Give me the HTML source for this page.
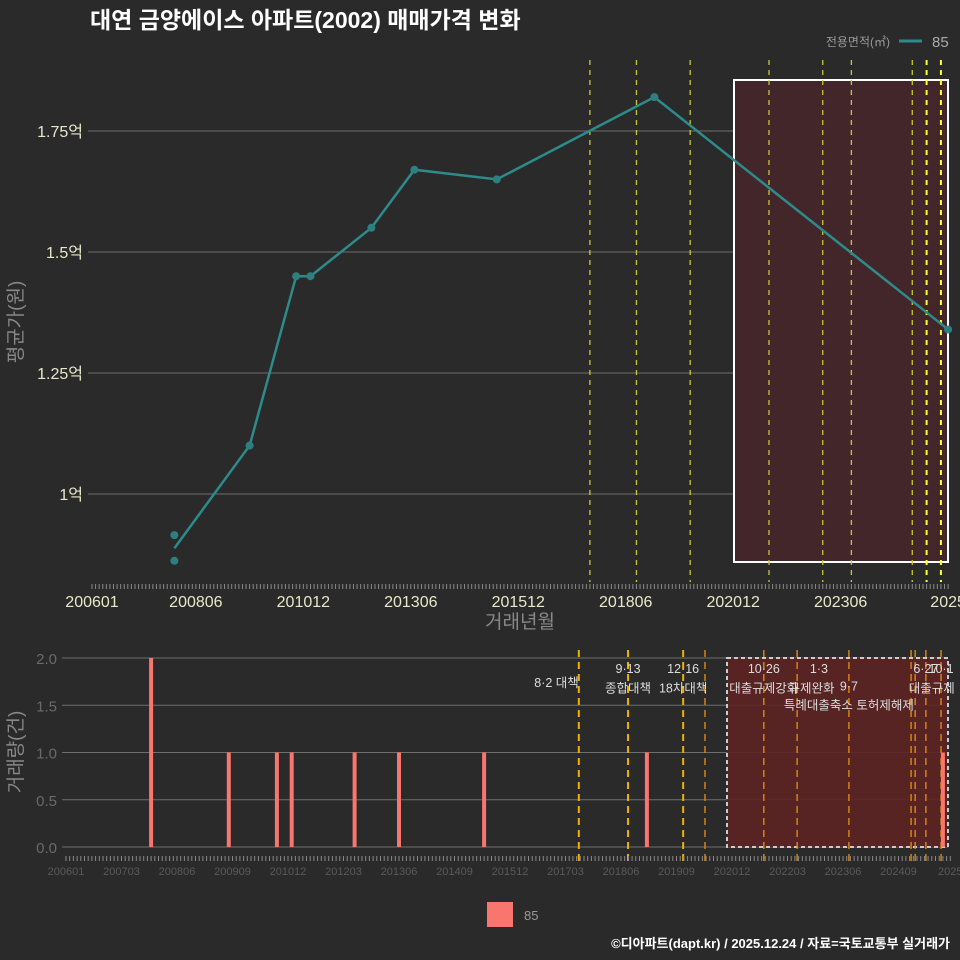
<!DOCTYPE html>
<html><head><meta charset="utf-8">
<style>
html,body{margin:0;padding:0;background:#2a2a2b;}
svg{display:block;font-family:"Liberation Sans","Noto Sans CJK KR",sans-serif;}
</style></head>
<body>
<svg id="c" width="960" height="960" viewBox="0 0 960 960" xmlns="http://www.w3.org/2000/svg">
<rect x="0" y="0" width="960" height="960" fill="#2a2a2b"/>
<text x="90" y="28" fill="#ffffff" font-size="23" font-weight="bold">대연 금양에이스 아파트(2002) 매매가격 변화</text>
<text x="890" y="46" fill="#9a9a9a" font-size="12" text-anchor="end">전용면적(㎡)</text>
<line x1="899" y1="41" x2="922" y2="41" stroke="#2e8b8b" stroke-width="3"/>
<text x="932" y="47" fill="#aaaaaa" font-size="15">85</text>
<g id="topg"></g>
<g id="botg"></g>
<rect x="487" y="902" width="26" height="25" fill="#f8766d"/>
<text x="524" y="920" fill="#999999" font-size="13">85</text>
<text x="950" y="948" fill="#ffffff" font-size="13" font-weight="bold" text-anchor="end">©디아파트(dapt.kr) / 2025.12.24 / 자료=국토교통부 실거래가</text>
</svg>
<script>
// ---- data ----
const priceMonths = [23, 23, 44, 57, 61, 78, 90, 113, 157, 239]; // months since 2006-01
const priceValues = [0.915, 0.862, 1.10, 1.45, 1.45, 1.55, 1.67, 1.65, 1.82, 1.34]; // 억
const lineMonths = [23, 44, 57, 61, 78, 90, 113, 157, 239];
const lineValues = [0.888, 1.10, 1.45, 1.45, 1.55, 1.67, 1.65, 1.82, 1.34];
const volMonths = [23, 44, 57, 61, 78, 90, 113, 157, 237];
const volValues = [2, 1, 1, 1, 1, 1, 1, 1, 1];
const topPolicyMonths = [139, 152, 167, 189, 204, 212, 229, 233, 237];
const botPolicyMonths = [138.6, 151.9, 166.8, 172.7, 188.6, 197.6, 211.6, 228.4, 229.5, 232.4, 236.5];
const topYTicks = [1, 1.25, 1.5, 1.75];
const topYLabels = ["1억", "1.25억", "1.5억", "1.75억"];
const topXTickMonths = [0, 29, 59, 89, 119, 149, 179, 209, 239];
const topXLabels = ["200601","200806","201012","201306","201512","201806","202012","202306","2025"];
const botYTicks = [0, 0.5, 1, 1.5, 2];
const botYLabels = ["0.0","0.5","1.0","1.5","2.0"];
const botXTickMonths = [0,15,30,45,60,75,90,105,120,135,150,165,180,195,210,225,239];
const botXLabels = ["200601","200703","200806","200909","201012","201203","201306","201409","201512","201703","201806","201909","202012","202203","202306","202409","2025"];
const policyLabels = [
 {m:138.6, row:1, t:"8·2 대책", anchor:"end"},
 {m:151.9, row:0, t:"9·13"}, {m:151.9, row:1.4, t:"종합대책"},
 {m:166.8, row:0, t:"12·16"}, {m:166.8, row:1.4, t:"18차대책"},
 {m:188.6, row:0, t:"10·26"}, {m:188.6, row:1.4, t:"대출규제강화"},
 {m:203.5, row:0, t:"1·3"}, {m:201.5, row:1.4, t:"규제완화"},
 {m:211.6, row:1.25, t:"9·7"}, {m:211.6, row:2.6, t:"특례대출축소 토허제해제"},
 {m:232.4, row:0, t:"6·27"}, {m:236.5, row:0, t:"10·1"}, {m:234, row:1.4, t:"대출규제"}
];
// ---- axes ----
const NS = "http://www.w3.org/2000/svg";
const tx = m => 92 + m * 3.582;
const ty = v => 494 - (v - 1) * 484;
const bx = m => 66 + m * 3.7;
const by = v => 847 - v * 94.5;
function mk(parent, tag, attrs, text){
  const e = document.createElementNS(NS, tag);
  for (const k in attrs) e.setAttribute(k, attrs[k]);
  if (text !== undefined) e.textContent = text;
  parent.appendChild(e); return e;
}
const topG = document.getElementById('topg');
const botG = document.getElementById('botg');
topYTicks.forEach((v,i)=>{
  const g = mk(topG,'line',{x1:88,x2:948,y1:ty(v),y2:ty(v),stroke:'#6e6e6e','stroke-width':1});
  
  
  const t = mk(topG,'text',{x:83,y:ty(v)+6,fill:'#e8e8c8','font-size':16,'text-anchor':'end'},topYLabels[i]);
  
  
});
const r1 = mk(topG,'rect',{x:734,y:80,width:214,height:482,fill:'#43262a',stroke:'#ffffff','stroke-width':2});


topPolicyMonths.forEach((m,i)=>{
  const bright = i>=7;
  const l = mk(topG,'line',{x1:tx(m),x2:tx(m),y1:60,y2:582,stroke:bright?'#ffff33':'#c8c832','stroke-width':bright?2:1.3,'stroke-dasharray':'5 5'});
  
  
});
for(let m=0;m<=239;m++){
  const l = mk(topG,'line',{x1:tx(m),x2:tx(m),y1:584,y2:589,stroke:'#8a8a8a','stroke-width':1});
  
  
}
topXTickMonths.forEach((m,i)=>{
  const t = mk(topG,'text',{x:tx(m),y:607,fill:'#e8e8c8','font-size':16,'text-anchor':'middle'},topXLabels[i]);
  
  
});
const xt = mk(topG,'text',{x:520,y:628,fill:'#888888','font-size':19,'text-anchor':'middle'},'거래년월');


const yt = mk(topG,'text',{x:0,y:0,fill:'#888888','font-size':19,'text-anchor':'middle',transform:'translate(22,322) rotate(-90)'},'평균가(원)');


const pl = mk(topG,'polyline',{points:lineMonths.map((m,i)=>tx(m)+','+ty(lineValues[i])).join(' '),fill:'none',stroke:'#2e8b8b','stroke-width':2.5});


priceMonths.forEach((m,i)=>{
  const c = mk(topG,'circle',{cx:tx(m),cy:ty(priceValues[i]),r:4,fill:'#2e8080'});
  
  
});
// bottom
botYTicks.forEach((v,i)=>{
  const g = mk(botG,'line',{x1:62,x2:948,y1:by(v),y2:by(v),stroke:'#6e6e6e','stroke-width':1});
  
  
  const t = mk(botG,'text',{x:57,y:by(v)+6,fill:'#6a6a6a','font-size':15,'text-anchor':'end'},botYLabels[i]);
  
  
});
const r2 = mk(botG,'rect',{x:727,y:658,width:221,height:189,fill:'#5c2222','fill-opacity':0.9,stroke:'#cccccc','stroke-width':2,'stroke-dasharray':'4 3'});


botPolicyMonths.forEach((m,i)=>{
  const l = mk(botG,'line',{x1:bx(m),x2:bx(m),y1:650,y2:862,stroke:i<3?'#f0b000':'#e08a10','stroke-width':i<3?2:1.4,'stroke-dasharray':'7 5'});
  
  
});
volMonths.forEach((m,i)=>{
  const b = mk(botG,'rect',{x:bx(m)-2,y:by(volValues[i]),width:4,height:by(0)-by(volValues[i]),fill:'#f8766d'});
  
  
});
policyLabels.forEach(p=>{
  const t = mk(botG,'text',{x:bx(p.m),y:673+p.row*14,fill:'#dddddd','font-size':12.5,'text-anchor':p.anchor||'middle'},p.t);
  
  
});
for(let m=0;m<=239;m++){
  const l = mk(botG,'line',{x1:bx(m),x2:bx(m),y1:856,y2:861,stroke:'#8a8a8a','stroke-width':1});
  
  
}
botXTickMonths.forEach((m,i)=>{
  const t = mk(botG,'text',{x:bx(m),y:875,fill:'#5a5a5a','font-size':11,'text-anchor':'middle'},botXLabels[i]);
  
  
});
const yb = mk(botG,'text',{x:0,y:0,fill:'#888888','font-size':19,'text-anchor':'middle',transform:'translate(22,752) rotate(-90)'},'거래량(건)');


</script>
</body></html>
